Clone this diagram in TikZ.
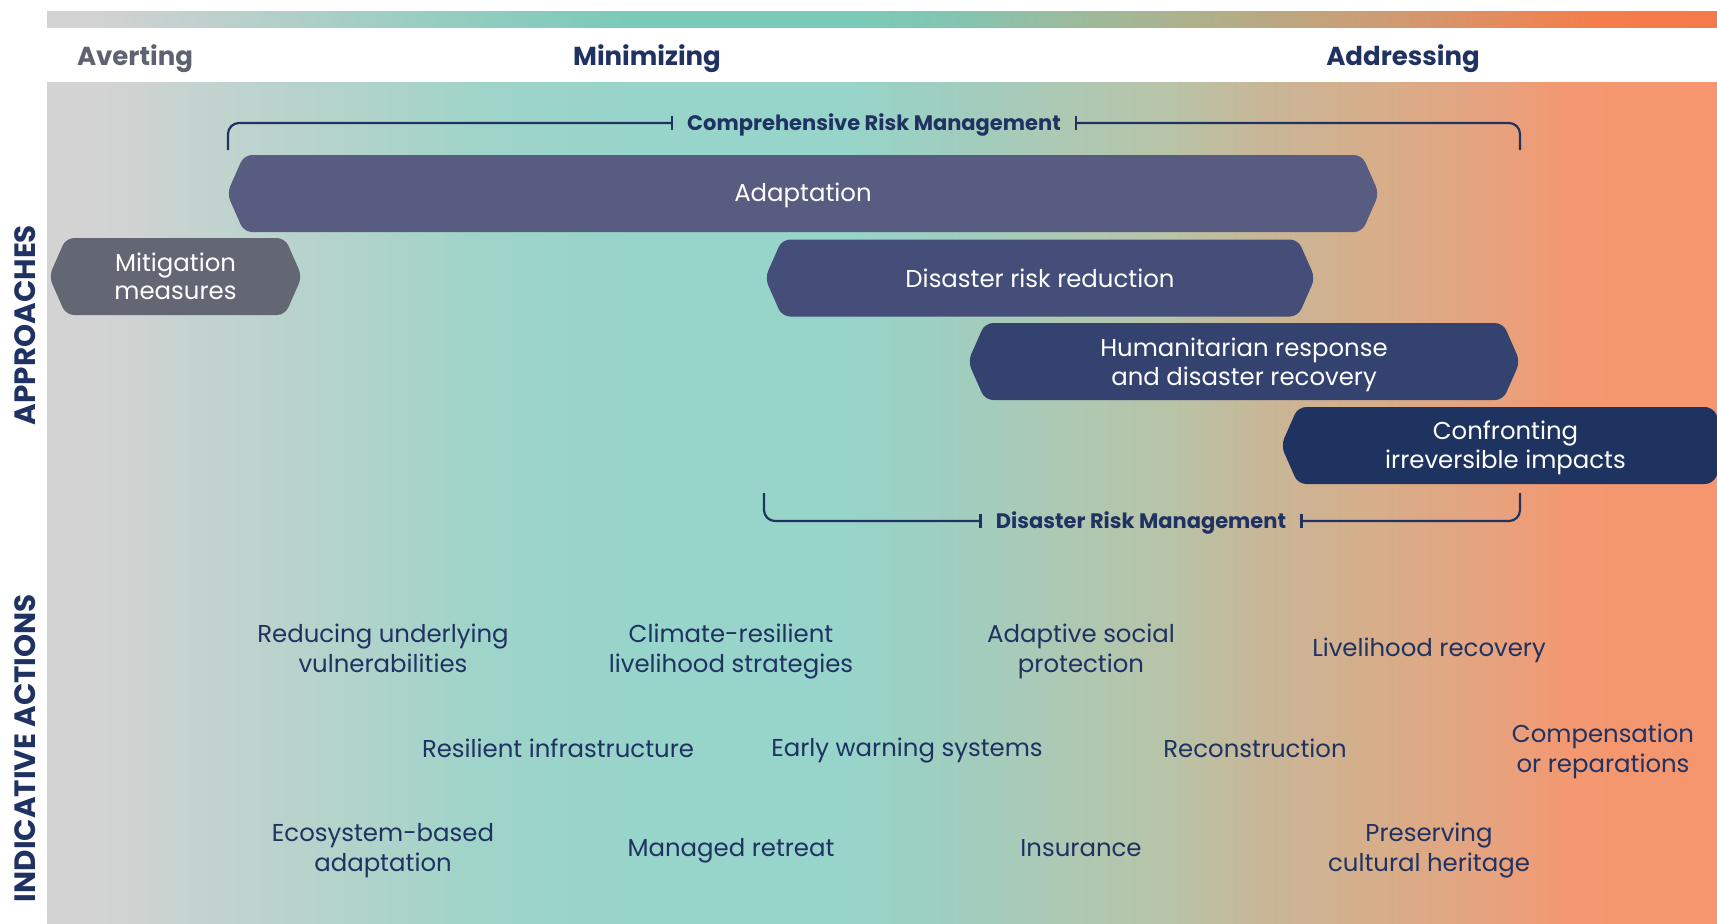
\documentclass[tikz,border=0pt]{standalone}
\usepackage{fontspec}
\setmainfont{Poppins}
\usepackage{xcolor}
\usepackage{tikz}
\usetikzlibrary{arrows.meta}
\definecolor{navy}{HTML}{1F3262}
\definecolor{slate}{HTML}{5D6371}
\definecolor{adapt}{HTML}{575C80}
\definecolor{mitig}{HTML}{636773}
\definecolor{drr}{HTML}{454E78}
\definecolor{human}{HTML}{33426E}
\definecolor{confront}{HTML}{1F3361}
% background stops, grey -> teal -> orange
\definecolor{bgA}{HTML}{D3D3D3}
\definecolor{bgB}{HTML}{C4D3CF}
\definecolor{bgC}{HTML}{B0D3CA}
\definecolor{bgD}{HTML}{9FD4C9}
\definecolor{bgE}{HTML}{97D4C9}
\definecolor{bgF}{HTML}{9FCEC0}
\definecolor{bgG}{HTML}{ABC9B5}
\definecolor{bgH}{HTML}{B8C4A8}
\definecolor{bgI}{HTML}{C8B697}
\definecolor{bgJ}{HTML}{D8AD89}
\definecolor{bgK}{HTML}{E8A17D}
\definecolor{bgL}{HTML}{F39870}
\definecolor{bgM}{HTML}{F5966E}
% top strip stops
\definecolor{tsA}{HTML}{D2D2D2}
\definecolor{tsB}{HTML}{A3CEC5}
\definecolor{tsC}{HTML}{88CBBC}
\definecolor{tsD}{HTML}{7ACAB8}
\definecolor{tsE}{HTML}{82C6B2}
\definecolor{tsF}{HTML}{97BDA0}
\definecolor{tsG}{HTML}{B1AE88}
\definecolor{tsH}{HTML}{CE9B74}
\definecolor{tsI}{HTML}{EC8453}
\definecolor{tsJ}{HTML}{F57C4B}
\definecolor{tsK}{HTML}{F57A4A}
% tikz fits the 25bp..75bp part of a shading to the path
\pgfdeclarehorizontalshading{bgshade}{100bp}{color(0bp)=(bgA); color(26.5bp)=(bgA);
  color(29.5bp)=(bgB); color(34.5bp)=(bgC); color(38bp)=(bgD); color(42.5bp)=(bgE);
  color(49bp)=(bgE); color(52bp)=(bgF); color(55bp)=(bgG); color(58.5bp)=(bgH);
  color(61.5bp)=(bgI); color(65bp)=(bgJ); color(68.5bp)=(bgK); color(70.5bp)=(bgL);
  color(75bp)=(bgM); color(100bp)=(bgM)}
\pgfdeclarehorizontalshading{stripshade}{100bp}{color(0bp)=(tsA); color(26.5bp)=(tsA);
  color(34.5bp)=(tsB); color(39.5bp)=(tsC); color(42.5bp)=(tsD); color(49bp)=(tsD);
  color(52bp)=(tsE); color(55bp)=(tsF); color(60bp)=(tsG); color(65bp)=(tsH);
  color(70bp)=(tsI); color(71.5bp)=(tsJ); color(75bp)=(tsK); color(100bp)=(tsK)}
\tikzset{
  BarText/.style={text=white, font=\fontsize{12.2}{14.25}\selectfont, align=center},
  Header/.style={anchor=base, font=\fontsize{13}{15}\selectfont\bfseries},
  Action/.style={text=navy, font=\fontsize{12.2}{15}\selectfont, align=center},
  SideLabel/.style={text=navy, font=\fontsize{14.7}{16}\selectfont\bfseries, rotate=90},
  BracketText/.style={
    text=navy, font=\fontsize{10.5}{12}\selectfont\bfseries,
    text height=0.7em, text depth=0pt, inner xsep=7pt, inner ysep=0pt
  },
  Bracket/.style={
    draw=navy, line width=1.1pt, rounded corners=5.5pt,
    -{Bar[width=7pt,line width=1.1pt]}
  }
}
\newcommand{\HexBar}[7][]{%
  % #1 = label node options, #2 = fill colour, #3 = left tip x, #4 = right tip x
  % #5 = centre y, #6 = node name, #7 = label
  \fill[#2, rounded corners=4pt] (#3,#5) -- ({#3+17},{#5-38.5}) -- ({#4-17},{#5-38.5})
    -- (#4,#5) -- ({#4-17},{#5+38.5}) -- ({#3+17},{#5+38.5}) -- cycle;
  \node[BarText,#1] (#6) at ({(#3+#4)/2},#5) {#7};
}

\begin{document}
\begin{tikzpicture}[x=0.5pt, y=-0.5pt]
  \useasboundingbox (0,0) rectangle (1717,923);

  % colour bands
  \shade[shading=stripshade] (47,11) rectangle (1717,27);
  \shade[shading=bgshade] (47,82) rectangle (1717,923);

  % column headers
  \node[Header, text=slate] (averting) at (135,65) {Averting};
  \node[Header, text=navy] (minimizing) at (647,65) {Minimizing};
  \node[Header, text=navy] (addressing) at (1403,65) {Addressing};

  % approaches
  \HexBar[yshift=-1pt]{adapt}{227}{1379}{193.5}{adaptation}{Adaptation}
  \HexBar{mitig}{49}{302}{276.5}{mitigation}{Mitigation\\measures}
  \HexBar{drr}{765}{1315}{278}{riskred}{Disaster risk reduction}
  \HexBar[yshift=-1.6pt]{human}{968}{1520}{361.5}{humanit}{Humanitarian response\\and disaster recovery}
  \HexBar[yshift=-1.1pt]{confront}{1281}{1730}{445.5}{confronting}{Confronting\\irreversible impacts}

  % brackets
  \node[BracketText] (crm) at (874,123) {Comprehensive Risk Management};
  \draw[Bracket] (228,150) |- (crm.west);
  \draw[Bracket] (1520,150) |- (crm.east);

  \node[BracketText] (drm) at (1141,521) {Disaster Risk Management};
  \draw[Bracket] (764,493) |- (drm.west);
  \draw[Bracket] (1520,493) |- (drm.east);

  % side labels
  \node[SideLabel] (approaches) at (25,325) {APPROACHES};
  \node[SideLabel] (actions) at (25,748) {INDICATIVE ACTIONS};

  % indicative actions
  \node[Action] (underlying) at (383,648) {Reducing underlying\\vulnerabilities};
  \node[Action] (livelihood) at (731,651) {Climate-resilient\\livelihood strategies};
  \node[Action] (socialprot) at (1081,651) {Adaptive social\\protection};
  \node[Action] (recovery) at (1429,650) {Livelihood recovery};
  \node[Action] (infra) at (558,748) {Resilient infrastructure};
  \node[Action] (earlywarn) at (907,750) {Early warning systems};
  \node[Action] (reconstr) at (1255,748) {Reconstruction};
  \node[Action] (compens) at (1603,751) {Compensation\\or reparations};
  \node[Action] (ecosystem) at (383,851) {Ecosystem-based\\adaptation};
  \node[Action] (retreat) at (731,851) {Managed retreat};
  \node[Action] (insurance) at (1081,848) {Insurance};
  \node[Action] (heritage) at (1429,850) {Preserving\\cultural heritage};
\end{tikzpicture}
\end{document}
